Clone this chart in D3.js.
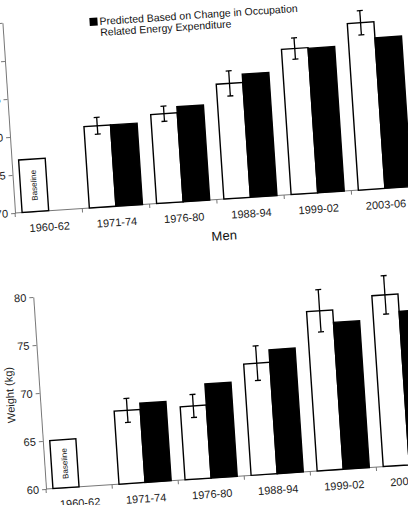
<!DOCTYPE html>
<html>
<head>
<meta charset="utf-8">
<script src="https://cdn.jsdelivr.net/npm/d3@7"></script>
<style>
  body { margin: 0; background: #fff; }
  svg { display: block; font-family: "Liberation Sans", Arial, sans-serif; }
</style>
</head>
<body>
<script>
// survey periods and values
const periods = ["1960-62", "1971-74", "1976-80", "1988-94", "1999-02", "2003-06"];

const menObserved  = [76.9, 80.7, 81.7, 85.1, 89.1, 91.9];
const menPredicted = [null, 80.7, 82.5, 86.2, 89.0, 89.8];
const menError     = [null, 1.1, 1.0, 1.65, 1.4, 1.6];
const menTicks     = [70, 75, 80, 85, 90, 95];

const womenObserved  = [65.0, 67.6, 67.6, 71.6, 76.6, 77.8];
const womenPredicted = [null, 68.25, 69.8, 72.9, 75.3, 76.0];
const womenError     = [null, 1.25, 1.2, 1.8, 2.2, 2.0];
const womenTicks     = [60, 65, 70, 75, 80];

const legendLines = ["Predicted Based on Change in Occupation", "Related Energy Expenditure"];

let svg = d3.select("body").append("svg")
  .attr("width", 408)
  .attr("height", 505);

// the scanned page is slightly tilted
let root = svg.append("g").attr("transform", "rotate(-3.8,46,489)");

function drawPanel(ox, oy, width, height, yDomain, ticks, obs, pred, err, title) {
  let g = root.append("g").attr("transform", "translate(" + ox + "," + (oy - height) + ")");

  let x0 = d3.scaleBand().domain(periods).range([0, width]).paddingInner(0.21).paddingOuter(0.105);
  let x1 = d3.scaleBand().domain(["obs", "pred"]).range([0, x0.bandwidth()]);
  let y = d3.scaleLinear().domain(yDomain).range([height, 0]);

  let rows = periods.map(function(p, i) {
    return {period: p, obs: obs[i], pred: pred[i], err: err[i]};
  });

  // y axis
  let yAxis = d3.axisLeft(y).tickValues(ticks).tickSize(4).tickSizeOuter(0).tickPadding(3);
  let yg = g.append("g").call(yAxis);
  yg.select(".domain").attr("stroke", "#777");
  yg.selectAll(".tick line").attr("stroke", "#777");
  yg.selectAll(".tick text").attr("fill", "#222").style("font-size", "11px").attr("font-family", null);

  // x axis: line plus ticks between categories
  g.append("line")
    .attr("x1", 0).attr("x2", width)
    .attr("y1", height).attr("y2", height)
    .attr("stroke", "#777");
  g.selectAll(".xtick")
    .data(d3.range(periods.length + 1))
    .enter().append("line")
    .attr("class", "xtick")
    .attr("x1", function(i) { return i * x0.step(); })
    .attr("x2", function(i) { return i * x0.step(); })
    .attr("y1", height).attr("y2", height + 4)
    .attr("stroke", "#777");
  g.selectAll(".xlabel")
    .data(periods)
    .enter().append("text")
    .attr("class", "xlabel")
    .attr("x", function(d) { return x0(d) + x0.bandwidth() / 2; })
    .attr("y", height + 20)
    .attr("text-anchor", "middle")
    .style("font-size", "11px")
    .attr("fill", "#222")
    .text(function(d) { return d; });

  // observed bars (white)
  g.selectAll(".obs")
    .data(rows)
    .enter().append("rect")
    .attr("class", "obs")
    .attr("x", function(d) { return x0(d.period) + x1("obs"); })
    .attr("y", function(d) { return y(d.obs); })
    .attr("width", x1.bandwidth())
    .attr("height", function(d) { return height - y(d.obs); })
    .attr("fill", "#fff")
    .attr("stroke", "#000")
    .attr("stroke-width", 1.4);

  // predicted bars (black)
  g.selectAll(".pred")
    .data(rows.filter(function(d) { return d.pred != null; }))
    .enter().append("rect")
    .attr("class", "pred")
    .attr("x", function(d) { return x0(d.period) + x1("pred"); })
    .attr("y", function(d) { return y(d.pred); })
    .attr("width", x1.bandwidth())
    .attr("height", function(d) { return height - y(d.pred); })
    .attr("fill", "#000")
    .attr("stroke", "#000")
    .attr("stroke-width", 1.4);

  // error bars on observed
  let eb = g.selectAll(".err")
    .data(rows.filter(function(d) { return d.err != null; }))
    .enter().append("g")
    .attr("class", "err")
    .attr("transform", function(d) {
      return "translate(" + (x0(d.period) + x1("obs") + x1.bandwidth() / 2) + ",0)";
    });
  eb.append("line")
    .attr("y1", function(d) { return y(d.obs + d.err); })
    .attr("y2", function(d) { return y(d.obs - d.err); })
    .attr("stroke", "#000").attr("stroke-width", 1.3);
  eb.append("line")
    .attr("x1", -3).attr("x2", 3)
    .attr("y1", function(d) { return y(d.obs + d.err); })
    .attr("y2", function(d) { return y(d.obs + d.err); })
    .attr("stroke", "#000").attr("stroke-width", 1.3);
  eb.append("line")
    .attr("x1", -3).attr("x2", 3)
    .attr("y1", function(d) { return y(d.obs - d.err); })
    .attr("y2", function(d) { return y(d.obs - d.err); })
    .attr("stroke", "#000").attr("stroke-width", 1.3);

  // "Baseline" written inside the first bar
  let base = rows[0];
  let bx = x0(base.period) + x1("obs") + x1.bandwidth() / 2;
  let by = (y(base.obs) + height) / 2;
  g.append("text")
    .attr("transform", "translate(" + (bx + 3) + "," + by + ") rotate(-90)")
    .attr("text-anchor", "middle")
    .style("font-size", "8px")
    .attr("fill", "#111")
    .text("Baseline");

  // y title
  g.append("text")
    .attr("transform", "translate(-26," + (height / 2) + ") rotate(-90)")
    .attr("text-anchor", "middle")
    .style("font-size", "11px")
    .attr("fill", "#222")
    .text("Weight (kg)");

  if (title) {
    g.append("text")
      .attr("x", width / 2 + 5)
      .attr("y", height + 41)
      .attr("text-anchor", "middle")
      .style("font-size", "13px")
      .attr("fill", "#111")
      .text(title);
  }
  return g;
}

let menPanel = drawPanel(33.4, 211.5, 6 * 67.4, 190.5, [70, 95], menTicks,
  menObserved, menPredicted, menError, "Men");
drawPanel(46, 489, 6 * 66.2, 192.4, [60, 80], womenTicks,
  womenObserved, womenPredicted, womenError, "Women");

// legend (only the black entry is inside the crop)
menPanel.append("rect")
  .attr("x", 87).attr("y", 1)
  .attr("width", 8).attr("height", 8)
  .attr("fill", "#000");
menPanel.selectAll(".leg")
  .data(legendLines)
  .enter().append("text")
  .attr("class", "leg")
  .attr("x", 97)
  .attr("y", function(d, i) { return 8.6 + i * 11; })
  .style("font-size", "10.5px")
  .attr("fill", "#111")
  .text(function(d) { return d; });
</script>
</body>
</html>
